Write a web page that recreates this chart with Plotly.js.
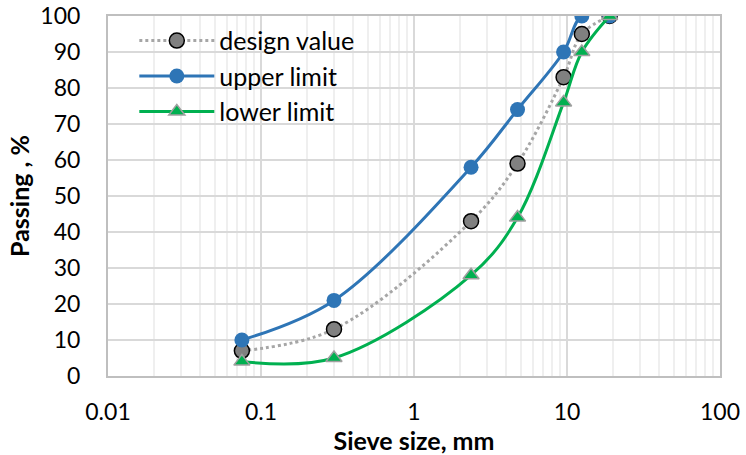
<!DOCTYPE html>
<html><head><meta charset="utf-8">
<script src="https://cdn.plot.ly/plotly-3.0.1.min.js"></script>
<style>html,body{margin:0;padding:0;background:#fff}</style>
</head><body>
<div id="chart" style="width:746px;height:455px"></div>
<script>
const sieveSizes = [0.075, 0.3, 2.36, 4.75, 9.5, 12.5, 19];
const designValue = [7, 13, 43, 59, 83, 95, 100];
const upperLimit = [10, 21, 58, 74, 90, 100, 100];
const lowerLimit = [4, 5, 28, 44, 76, 90, 100];
const xTickVals = [0.01, 0.1, 1, 10, 100];
const xTickText = ['0.01', '0.1', '1', '10', '100'];
const yTickVals = [0, 10, 20, 30, 40, 50, 60, 70, 80, 90, 100];

const font = 'Lato, "Open Sans", sans-serif';
const traces = [
  {x: sieveSizes, y: designValue, name: 'design value', mode: 'lines+markers',
   line: {color: '#a6a6a6', width: 3, dash: 'dot', shape: 'spline', smoothing: 1},
   marker: {symbol: 'circle', size: 15, color: '#808080', line: {color: '#000', width: 1.5}}},
  {x: sieveSizes, y: upperLimit, name: 'upper limit', mode: 'lines+markers',
   line: {color: '#2e75b6', width: 3, shape: 'spline', smoothing: 1},
   marker: {symbol: 'circle', size: 15, color: '#2e75b6'}},
  {x: sieveSizes, y: lowerLimit, name: 'lower limit', mode: 'lines+markers',
   line: {color: '#00b050', width: 3, shape: 'spline', smoothing: 1},
   marker: {symbol: 'triangle-up', size: 14, color: '#00b050', line: {color: '#a0a0a0', width: 1.5}}}
];
const layout = {
  width: 746, height: 455,
  margin: {l: 108, r: 26, t: 16, b: 79},
  paper_bgcolor: '#fff', plot_bgcolor: '#fff',
  font: {family: font, size: 23, color: '#000'},
  showlegend: true,
  legend: {x: 0.043, y: 0.995, xanchor: 'left', yanchor: 'top', bgcolor: 'rgba(0,0,0,0)',
           font: {size: 25}, tracegroupgap: 0, itemwidth: 75},
  xaxis: {type: 'log', range: [-2, 2], tickvals: xTickVals, ticktext: xTickText,
          showgrid: true, gridcolor: '#d9d9d9', gridwidth: 1.5,
          showline: true, linecolor: '#bfbfbf', linewidth: 2, mirror: true,
          ticks: 'outside', ticklen: 14, tickcolor: 'rgba(0,0,0,0)', zeroline: false, tickfont: {size: 23},
          minor: {dtick: 'D1', showgrid: true, gridcolor: '#efefef', gridwidth: 2, ticks: ''},
          title: {text: 'Sieve size, mm', font: {size: 25, family: font, weight: 'bold'}, standoff: 2}},
  yaxis: {range: [0, 100], tickvals: yTickVals, showgrid: true, gridcolor: '#d9d9d9', gridwidth: 1.5,
          showline: true, linecolor: '#bfbfbf', linewidth: 2, mirror: true,
          ticks: 'outside', ticklen: 21, tickcolor: 'rgba(0,0,0,0)', zeroline: false, tickfont: {size: 23},
          title: {text: 'Passing , %', font: {size: 25, family: font, weight: 'bold'}, standoff: 4}}
};
Plotly.newPlot('chart', traces, layout, {displayModeBar: false, staticPlot: true});
</script>
</body></html>
